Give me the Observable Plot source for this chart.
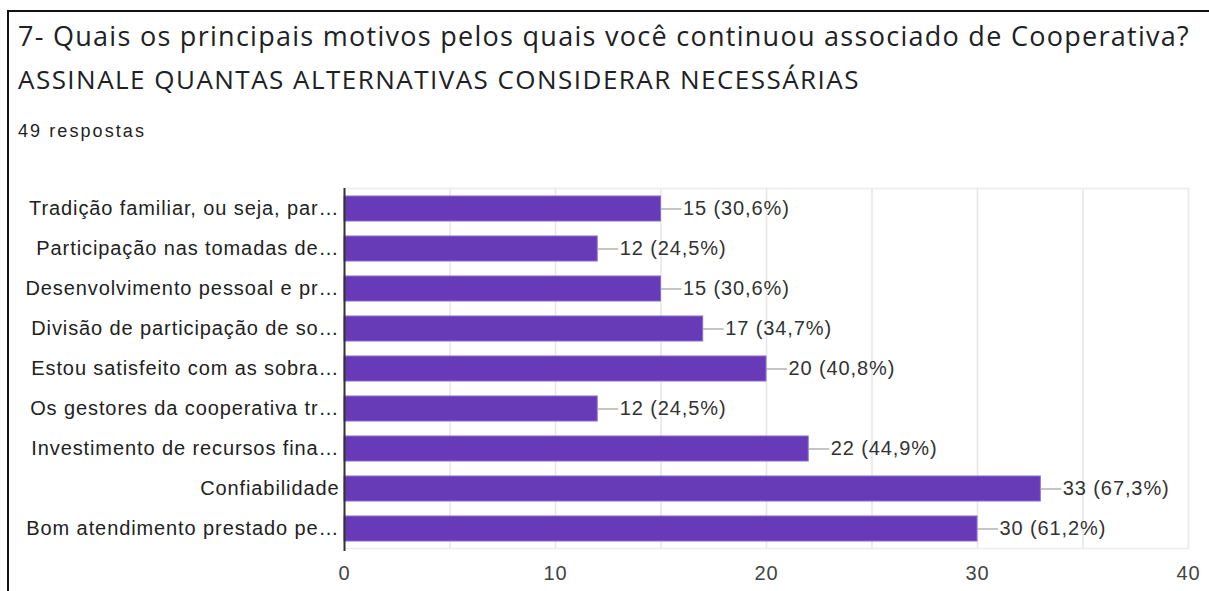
<!DOCTYPE html>
<html>
<head>
<meta charset="utf-8">
<script src="https://cdn.jsdelivr.net/npm/d3@7"></script>
<script src="https://cdn.jsdelivr.net/npm/@observablehq/plot@0.6"></script>
<style>
  html, body { margin: 0; padding: 0; background: #fff; }
  #page { position: relative; width: 1209px; height: 591px; overflow: hidden; background: #fff; }
  #borderTop { position: absolute; left: 7px; top: 10px; right: 0; height: 2px; background: #111; z-index: 5; }
  #borderLeft { position: absolute; left: 7px; top: 10px; width: 2px; bottom: 0; background: #111; z-index: 5; }
  .t { position: absolute; left: 18px; color: #202124; white-space: nowrap; line-height: 1; }
  #title1 { top: 22px; font-size: 27px; font-family: "Open Sans", "DejaVu Sans", sans-serif; }
  #title2 { top: 66px; font-size: 26px; font-family: "Open Sans", "DejaVu Sans", sans-serif; }
  #sub { top: 122px; font-size: 18px; color: #222; font-family: "Liberation Sans", Arial, sans-serif; }
  #chart { position: absolute; left: 0; top: 170px; }
</style>
</head>
<body>
<div id="page">
  <div id="borderTop"></div>
  <div id="borderLeft"></div>
  <div class="t" id="title1">7- Quais os principais motivos pelos quais você continuou associado de Cooperativa?</div>
  <div class="t" id="title2">ASSINALE QUANTAS ALTERNATIVAS CONSIDERAR NECESSÁRIAS</div>
  <div class="t" id="sub">49 respostas</div>
  <div id="chart"></div>
</div>
<script>
const categories = [
  "Tradição familiar, ou seja, par…",
  "Participação nas tomadas de…",
  "Desenvolvimento pessoal e pr…",
  "Divisão de participação de so…",
  "Estou satisfeito com as sobra…",
  "Os gestores da cooperativa tr…",
  "Investimento de recursos fina…",
  "Confiabilidade",
  "Bom atendimento prestado pe…"
];
const counts = [15, 12, 15, 17, 20, 12, 22, 33, 30];
const percents = ["30,6", "24,5", "30,6", "34,7", "40,8", "24,5", "44,9", "67,3", "61,2"];
const xTicks = [0, 10, 20, 30, 40];
const xGrid = [5, 10, 15, 20, 25, 30, 35, 40];

const data = categories.map((c, i) => ({
  category: c,
  value: counts[i],
  label: `${counts[i]} (${percents[i]}%)`
}));

const W = 1209, H = 421;
const mL = 344, mR = 21, mT = 18, mB = 43;
const pxPerUnit = (W - mL - mR) / 40;
const leader = 21 / pxPerUnit;

const chart = Plot.plot({
  width: W,
  height: H,
  marginLeft: mL,
  marginRight: mR,
  marginTop: mT,
  marginBottom: mB,
  style: { fontFamily: "'Liberation Sans', Arial, sans-serif", fontSize: "20px", letterSpacing: "0.9px", color: "#222", background: "transparent" },
  x: { domain: [0, 40], axis: null, label: null },
  y: { domain: categories, paddingInner: 0.3875, paddingOuter: 0.19375, axis: null, label: null },
  marks: [
    Plot.ruleX(xGrid, { x: d => d, stroke: "#e6e6e6", strokeWidth: 1.5 }),
    Plot.frame({ stroke: "#ececec", strokeWidth: 1.5 }),
    Plot.barX(data, { x: "value", y: "category", fill: "#673ab7", stroke: "#8c6bd0", strokeWidth: 1 }),
    Plot.ruleY(data, { y: "category", x1: "value", x2: d => d.value + leader, stroke: "#9e9e9e", strokeWidth: 1.2 }),
    Plot.text(data, { y: "category", x: d => d.value + leader, text: "label", textAnchor: "start", dx: 1, fill: "#333", fontSize: 20 }),
    Plot.axisY({ tickSize: 0, tickPadding: 5, fontSize: 20, color: "#222", label: null }),
    Plot.axisX({ ticks: xTicks, tickSize: 0, tickPadding: 17, fontSize: 20, color: "#444", label: null, tickFormat: d => String(d) }),
    Plot.ruleX([0], { stroke: "#333", strokeWidth: 2, insetBottom: -3 })
  ]
});
document.getElementById("chart").appendChild(chart);

function fit(id, target) {
  const el = document.getElementById(id);
  el.style.letterSpacing = "0px";
  const w = el.getBoundingClientRect().width;
  const n = el.textContent.length;
  el.style.letterSpacing = ((target - w) / n) + "px";
}
fit("title1", 1172);
fit("title2", 842);
fit("sub", 128);
</script>
</body>
</html>
